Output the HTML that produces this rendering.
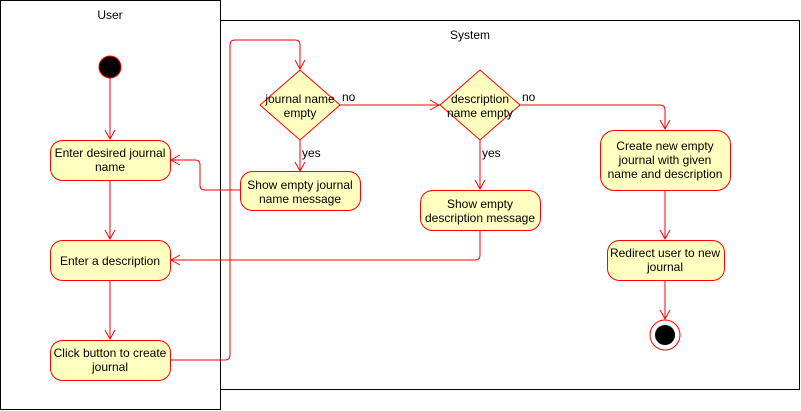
<!DOCTYPE html>
<html><head><style>body{margin:0;background:#fff}svg{display:block}text{font-family:"Liberation Sans",Arial,sans-serif;font-size:12px;fill:#000}</style></head><body>
<svg width="801" height="411" viewBox="0 0 801 411" xmlns="http://www.w3.org/2000/svg">
<defs><marker id="a" markerWidth="12" markerHeight="12" refX="10" refY="6" orient="auto" markerUnits="userSpaceOnUse"><path d="M1,1 L10,6 L1,11" fill="none" stroke="#f00" stroke-width="1"/></marker></defs>
<rect x="0.5" y="0.5" width="220" height="409" fill="#fff" stroke="#000"/>
<text x="110" y="19" text-anchor="middle">User</text>
<rect x="220.5" y="20.5" width="579" height="369" fill="#fff" stroke="#000"/>
<text x="470" y="39" text-anchor="middle">System</text>
<g fill="none" stroke="#f00" stroke-width="1">
<path d="M110,78 V139" marker-end="url(#a)"/>
<path d="M110,180 V239" marker-end="url(#a)"/>
<path d="M110,280 V339" marker-end="url(#a)"/>
<path d="M170,360 H225 Q230,360 230,355 V45 Q230,40 235,40 H295 Q300,40 300,45 V69" marker-end="url(#a)"/>
<path d="M300,140 V171" marker-end="url(#a)"/>
<path d="M240,190 H205 Q200,190 200,185 V165 Q200,160 195,160 H171" marker-end="url(#a)"/>
<path d="M340,105 H439" marker-end="url(#a)"/>
<path d="M480,140 V189" marker-end="url(#a)"/>
<path d="M480,230 V255 Q480,260 475,260 H171" marker-end="url(#a)"/>
<path d="M520,105 H660 Q665,105 665,110 V129" marker-end="url(#a)"/>
<path d="M665,190 V239" marker-end="url(#a)"/>
<path d="M665,280 V319" marker-end="url(#a)"/>
</g>
<circle cx="110" cy="67" r="11" fill="#000" stroke="#f00"/>
<circle cx="665" cy="335" r="15" fill="#fff" stroke="#f00"/>
<circle cx="665" cy="335" r="10" fill="#000"/>
<g fill="#ffffc0" stroke="#f00">
<rect x="50.5" y="140.5" width="120" height="40" rx="12"/>
<rect x="50.5" y="240.5" width="120" height="40" rx="12"/>
<rect x="50.5" y="340.5" width="120" height="40" rx="12"/>
<rect x="240.5" y="171.5" width="120" height="39" rx="12"/>
<rect x="420.5" y="190.5" width="120" height="40" rx="12"/>
<rect x="600.5" y="130.5" width="130" height="60" rx="14"/>
<rect x="607.5" y="240.5" width="117" height="40" rx="12"/>
<path d="M300,70 L340,105 L300,140 L260,105 Z"/>
<path d="M480,70 L520,105 L480,140 L440,105 Z"/>
</g>
<g text-anchor="middle">
<text x="110" y="157">Enter desired journal</text><text x="110" y="171">name</text>
<text x="110" y="265">Enter a description</text>
<text x="110" y="357">Click button to create</text><text x="110" y="371">journal</text>
<text x="300" y="189">Show empty journal</text><text x="300" y="203">name message</text>
<text x="480" y="208">Show empty</text><text x="480" y="222">description message</text>
<text x="665" y="150">Create new empty</text><text x="665" y="164">journal with given</text><text x="665" y="178">name and description</text>
<text x="665" y="257">Redirect user to new</text><text x="665" y="271">journal</text>
<text x="300" y="103">journal name</text><text x="300" y="117">empty</text>
<text x="480" y="103">description</text><text x="480" y="117">name empty</text>
</g>
<g style="font-size:11px">
<text x="342" y="101">no</text><text x="522" y="101">no</text>
<text x="302" y="157">yes</text><text x="482" y="157">yes</text>
</g>
</svg>
</body></html>
